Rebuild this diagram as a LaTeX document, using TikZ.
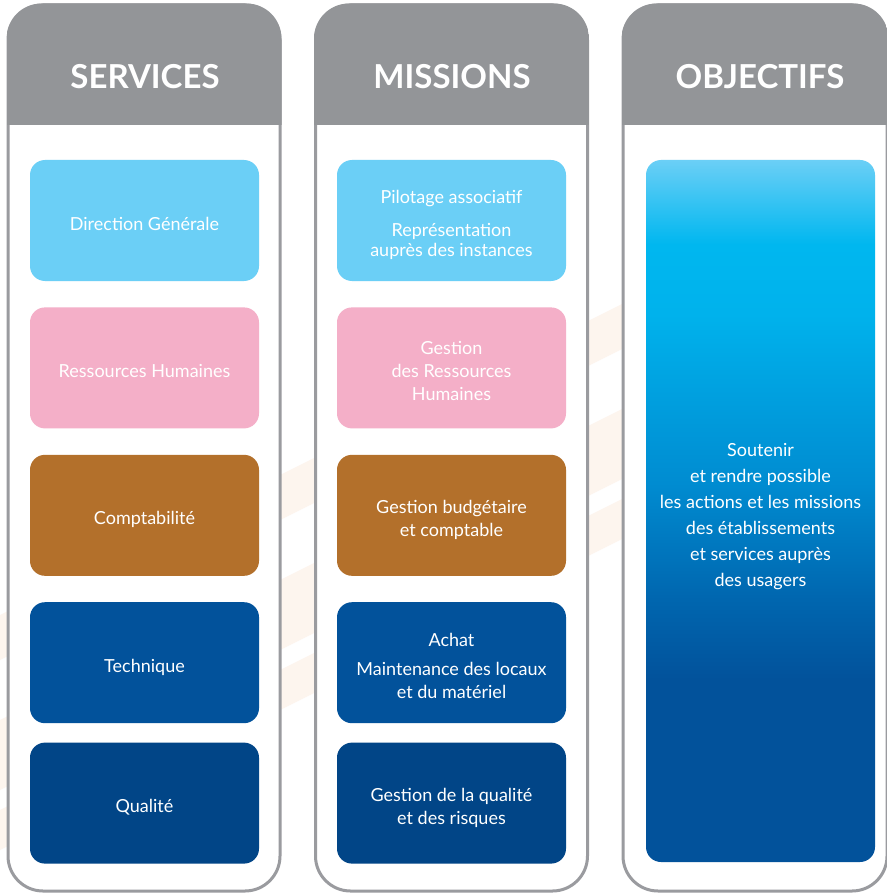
\documentclass[tikz,border=0pt]{standalone}
\usepackage{fontspec}
\setmainfont{Lato}
\usetikzlibrary{positioning}

\definecolor{headgray}{HTML}{939598}
\definecolor{framegray}{HTML}{9A9B9F}
\definecolor{skyblue}{HTML}{6BCFF6}
\definecolor{rosepink}{HTML}{F4AFC8}
\definecolor{ochre}{HTML}{B3702B}
\definecolor{midblue}{HTML}{02529B}
\definecolor{navyblue}{HTML}{014587}
\definecolor{stripe}{HTML}{FDF5EE}
\definecolor{cyanA}{HTML}{00B7EF}
\definecolor{cyanB}{HTML}{00B2EC}
\definecolor{blueA}{HTML}{008CD1}
\definecolor{blueB}{HTML}{0066AF}

\pgfdeclareverticalshading{objshade}{100bp}{color(0bp)=(midblue); color(38bp)=(midblue);
  color(43.7bp)=(blueB); color(52bp)=(blueA); color(64bp)=(cyanB); color(69bp)=(cyanA);
  color(75bp)=(skyblue); color(100bp)=(skyblue)}

% box text, set a little below the middle
\newcommand{\boxtext}[1]{\raisebox{-5pt}[\height][\depth]{\begin{tabular}{@{}c@{}}#1\end{tabular}}}

\tikzset{
  column/.style={draw=framegray, line width=3pt, fill=white, rounded corners=35pt,
    minimum width=272pt, minimum height=886pt, inner sep=0pt},
  title/.style={text=white, font=\bfseries\fontsize{33}{33}\selectfont},
  unit/.style={rounded corners=15pt, minimum width=229pt, minimum height=121pt,
    inner sep=0pt, text=white, font=\fontsize{18}{23}\selectfont},
}

\begin{document}
\begin{tikzpicture}[x=1pt, y=-1pt]
    \useasboundingbox (0,0) rectangle (886,893);
    \fill[white] (0,0) rectangle (886,893);
    % faint stripes behind the columns
    \fill[stripe] (0,615) -- (886,172) -- (886,217) -- (0,660) -- cycle;
    \fill[stripe] (0,720) -- (886,277) -- (886,347) -- (0,790) -- cycle;
    \fill[stripe] (0,810) -- (886,367) -- (886,407) -- (0,850) -- cycle;

    % Add the columns
    \node[column] (svccol) at (144,448) {};
    \node[column] (miscol) at (451.5,448) {};
    \node[column,
          minimum width=264pt] (objcol) at (755,448) {};
    \foreach \c in {svccol,miscol,objcol} {
        \begin{scope}
            \clip[rounded corners=35pt] (\c.north west) rectangle (\c.south east);
            \fill[headgray] (\c.north west) rectangle ([yshift=-122pt]\c.north east);
        \end{scope}
    }
    \node[title] (svctitle) at (145,77) {SERVICES};
    \node[title] (mistitle) at (452,77) {MISSIONS};
    \node[title] (objtitle) at (760,77) {OBJECTIFS};

    % Services
    \node[unit,
          fill=skyblue] (dg) at (144.5,220.5) {\boxtext{Direction Générale}};
    \node[unit,
          below=26pt of dg,
          fill=rosepink] (rh) {\boxtext{Ressources Humaines}};
    \node[unit,
          below=26pt of rh,
          fill=ochre] (compta) {\boxtext{Comptabilité}};
    \node[unit,
          below=26pt of compta,
          fill=midblue] (tech) {\boxtext{Technique}};
    \node[unit,
          below=19pt of tech,
          fill=navyblue] (qual) {\boxtext{Qualité}};

    % Missions
    \node[unit,
          fill=skyblue] (pilot) at (451.5,220.5) {\boxtext{Pilotage associatif\\[10pt]Représentation\\[-3pt]auprès des instances}};
    \node[unit,
          below=26pt of pilot,
          fill=rosepink] (grh) {\boxtext{Gestion\\des Ressources\\Humaines}};
    \node[unit,
          below=26pt of grh,
          fill=ochre] (budget) {\boxtext{Gestion budgétaire\\et comptable}};
    \node[unit,
          below=26pt of budget,
          fill=midblue] (achat) {\boxtext{Achat\\[6pt]Maintenance des locaux\\et du matériel}};
    \node[unit,
          below=19pt of achat,
          fill=navyblue] (risques) {\boxtext{Gestion de la qualité\\et des risques}};

    % Objectifs
    \node[unit,
          minimum height=702pt,
          shading=objshade,
          font=\fontsize{18}{26}\selectfont] (soutien) at (760.5,511) {\boxtext{Soutenir\\et rendre possible\\les actions et les missions\\des établissements\\et services auprès\\des usagers}};
\end{tikzpicture}
\end{document}
